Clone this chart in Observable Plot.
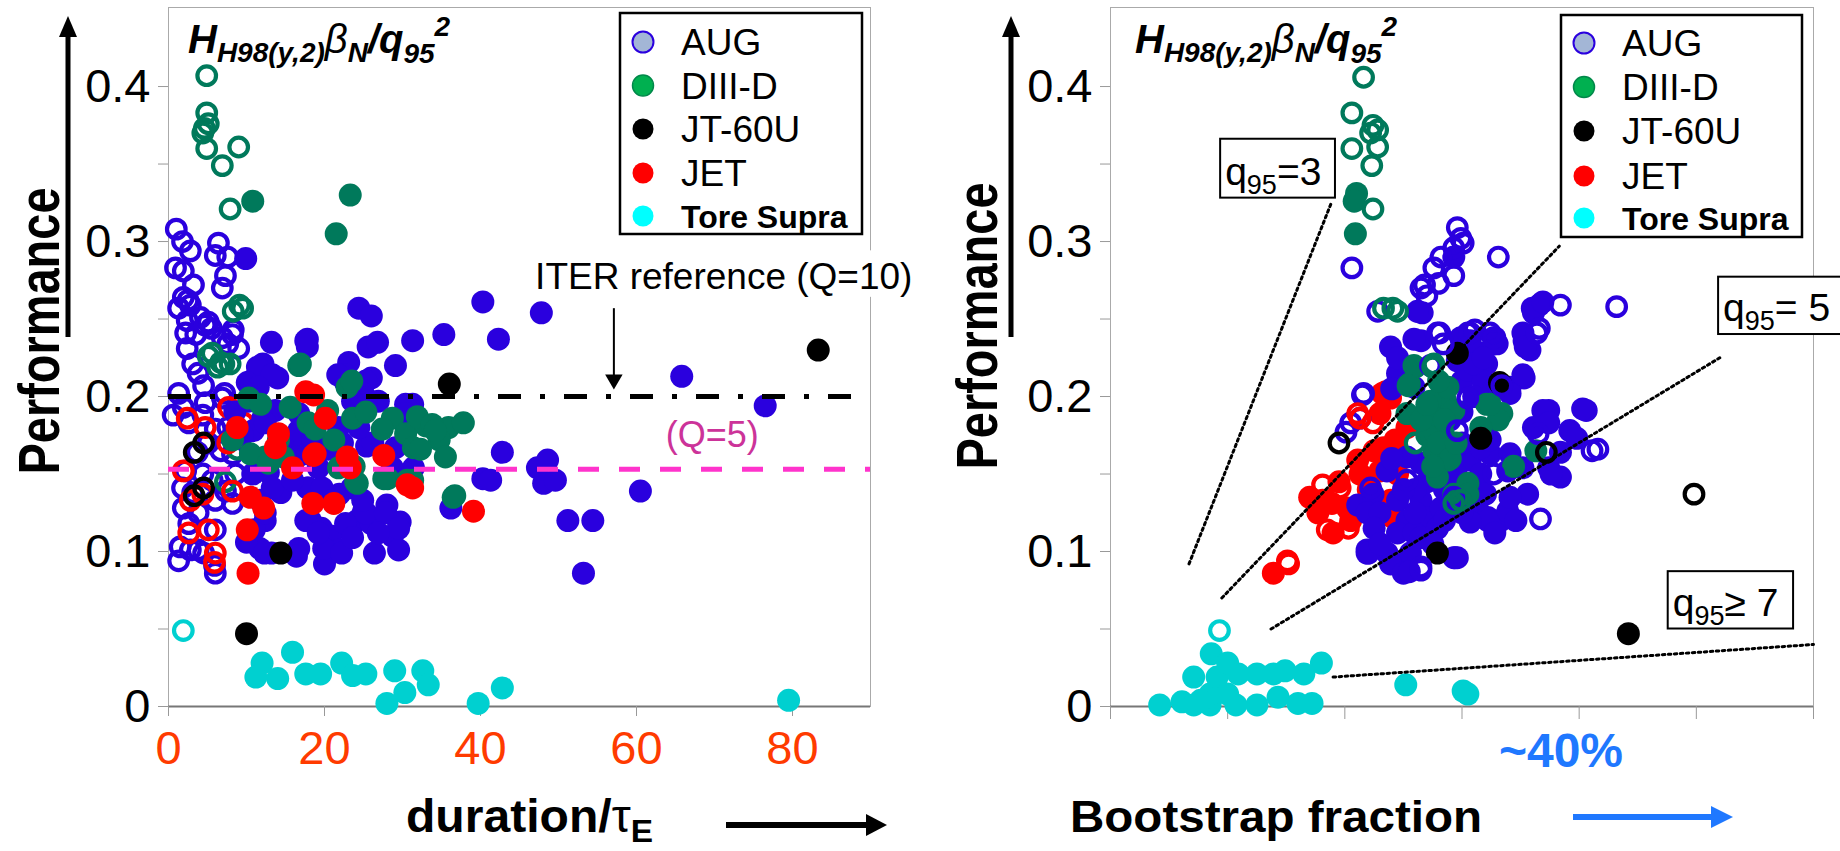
<!DOCTYPE html>
<html><head><meta charset="utf-8">
<script src="https://cdn.jsdelivr.net/npm/d3@7"></script>
<script src="https://cdn.jsdelivr.net/npm/@observablehq/plot@0.6"></script>
<style>
html,body{margin:0;padding:0;background:#fff;}
#wrap{position:relative;width:1840px;height:851px;overflow:hidden;font-family:"Liberation Sans",Arial,sans-serif;}
#left,#right{position:absolute;top:0;width:920px;height:851px;}
#left{left:0}#right{left:920px}
#ov{position:absolute;left:0;top:0;font-family:"Liberation Sans",Arial,sans-serif;}
</style></head><body>
<div id="wrap"><div id="left"></div><div id="right"></div><svg id="ov" width="1840" height="851"></svg></div>
<script>
// ---------- data: left panel (duration / tau_E , performance) ----------
const augOpenL = [[1.0,0.308],[1.8,0.300],[2.8,0.294],[6.4,0.299],[6.0,0.291],[7.6,0.290],[0.9,0.283],[1.9,0.281],[7.3,0.278],[3.2,0.272],[6.9,0.270],[1.9,0.264],[2.5,0.262],
[1.3,0.257],[2.8,0.259],[4.1,0.251],[5.1,0.248],[2.2,0.241],[3.5,0.240],[6.9,0.238],[8.2,0.240],[7.6,0.234],[9.0,0.231],[3.1,0.221],[3.8,0.215],[4.5,0.207],[1.3,0.202],[1.9,0.193],[0.6,0.188],[4.7,0.196],[6.9,0.199],[4.4,0.188],[2.6,0.183],[6.0,0.179],[7.6,0.180],[8.6,0.176],[5.1,0.170],[3.7,0.164],[6.7,0.165],[8.2,0.163],[2.2,0.152],[4.4,0.150],[8.6,0.150],[5.6,0.146],[1.8,0.141],[3.1,0.138],[7.3,0.139],[1.9,0.128],[3.8,0.125],[6.0,0.133],[8.2,0.131],[2.6,0.118],[6.0,0.114],[1.5,0.103],[3.8,0.101],
[1.3,0.094],[2.8,0.101],[4.5,0.099],[6.0,0.086],[5.9,0.091],[2.4,0.249],[4.7,0.246],[2.4,0.231],[5.5,0.244],[8.3,0.243],[7.2,0.202]];
const augFillL = [[9.9,0.289],[13.2,0.235],[17.8,0.237],[17.8,0.232],[24.4,0.257],[26.0,0.252],[25.6,0.232],[26.8,0.235],[31.3,0.236],[35.3,0.240],[40.3,0.261],[42.3,0.237],[47.8,0.254],[23.1,0.222],[29.1,0.220],[12.1,0.221],[14.0,0.212],[10.6,0.210],[22.7,0.209],[26.0,0.212],[31.3,0.195],[65.8,0.213],[76.5,0.194],
[42.8,0.164],[47.3,0.154],[48.6,0.159],[48.1,0.144],[49.6,0.146],[40.3,0.147],[41.3,0.146],[60.5,0.139],[51.2,0.120],[54.4,0.120],[31.4,0.154],[36.2,0.128],[29.7,0.119],[53.2,0.086],
[12.8,0.151],[14.4,0.138],[11.7,0.133],[12.4,0.120],[11.0,0.114],[11.7,0.102],[13.2,0.099],[16.7,0.102],[18.2,0.120],[19.6,0.115],[20.8,0.110],[20.0,0.092],[21.9,0.101],[24.2,0.120],[25.0,0.126],[26.0,0.118],[28.0,0.130],[29.5,0.118],[28.7,0.110],[26.4,0.099],[29.5,0.101],[21.9,0.137],[23.5,0.141],[17.8,0.141],[14.0,0.163],[16.3,0.170],[22.3,0.170],[25.4,0.168],[19.2,0.154],[28.7,0.154],
[10.0,0.106],[12.3,0.099],[16.4,0.097],[19.9,0.102],[22.2,0.099],
[11.4,0.219],[13.3,0.214],[10.1,0.209],[22.7,0.214],[25.3,0.210],[24.9,0.202],[30.4,0.195],[17.6,0.236],
[12.1,0.186],[10.9,0.178],[14.6,0.172],[16.5,0.161],[10.8,0.150],[13.3,0.141],[17.9,0.141],[19.7,0.141],[12.4,0.125],[17.6,0.120],[19.2,0.112],[22.7,0.118],[25.3,0.125],[27.8,0.125],[29.5,0.115],[26.9,0.112],[23.6,0.109],[24.9,0.133],[21.0,0.133],[15.9,0.146],[17.9,0.163],[20.5,0.166],[26.2,0.170],[29.1,0.167],[21.8,0.180],[24.4,0.180],[25.3,0.199],[26.9,0.197],[23.6,0.197],[30.4,0.189],[21.7,0.214],[10.3,0.197],[11.5,0.206],[13.7,0.191],[12.4,0.183],[16.7,0.178],[16.7,0.189],[18.5,0.172],[8.5,0.190],[9.5,0.175]];
const diiidOpenL = [[4.9,0.407],[4.9,0.383],[5.1,0.376],[4.6,0.373],[4.4,0.370],[4.9,0.360],[9.0,0.361],[6.9,0.349],[7.9,0.321],[9.1,0.259],[8.3,0.255],[9.5,0.257],[5.6,0.228],[5.1,0.226],[6.7,0.222],[7.9,0.221],[7.1,0.221],[6.3,0.219],[8.8,0.166],[7.3,0.145]];
const diiidFillL = [[10.8,0.326],[23.3,0.330],[21.5,0.305],[16.7,0.220],[10.3,0.199],[11.8,0.195],[15.6,0.193],[17.9,0.183],[20.4,0.191],[22.9,0.206],[23.6,0.186],[25.3,0.190],[28.7,0.186],[30.4,0.176],[27.4,0.179],[21.2,0.172],[21.8,0.154],[24.0,0.145],[12.4,0.161],[14.1,0.172],[10.5,0.163],[28.1,0.147],[31.3,0.146],[16.9,0.221],[23.5,0.210],[33.0,0.181],[35.9,0.180],[37.8,0.183],[34.7,0.172],[31.4,0.167],[35.5,0.161],[24.2,0.144],[36.7,0.136],[18.8,0.179],[14.7,0.161],[12.8,0.157],[23.8,0.155],[31.9,0.187],[33.8,0.182],[32.3,0.166],[36.5,0.135],[34.2,0.178],[27.6,0.147],[30.6,0.146],[8.2,0.172]];
const jtOpenL = [[4.5,0.170],[3.3,0.164],[4.5,0.141],[3.3,0.136]];
const jtFillL = [[36.0,0.208],[83.3,0.230],[14.4,0.099],[10.0,0.047]];
const jetOpenL = [[2.4,0.186],[1.9,0.152],[2.8,0.133],[7.7,0.193],[7.6,0.170],[4.7,0.180],[9.6,0.183],[5.1,0.114],[2.6,0.112],[6.0,0.099],[4.4,0.137],[8.2,0.139],[5.9,0.093]];
const jetFillL = [[17.6,0.203],[18.6,0.201],[20.1,0.186],[14.1,0.176],[18.6,0.162],[22.9,0.161],[23.3,0.154],[27.6,0.162],[30.6,0.143],[15.9,0.154],[10.5,0.135],[12.2,0.128],[18.5,0.131],[21.2,0.131],[10.1,0.114],[8.8,0.180],[13.7,0.167],[31.3,0.141],[39.1,0.126],[18.8,0.163],[10.2,0.086]];
const tsOpenL = [[1.9,0.049]];
const tsFillL = [[12.0,0.028],[11.2,0.019],[14.0,0.018],[15.9,0.035],[17.6,0.021],[19.5,0.021],[22.2,0.028],[23.6,0.020],[25.3,0.021],[29.0,0.023],[32.6,0.023],[33.3,0.014],[30.3,0.009],[28.0,0.002],[39.7,0.002],[42.8,0.012],[79.5,0.004]];

// ---------- data: right panel (bootstrap fraction %, performance) ----------
const augOpenR = [[20.6,0.283],[29.6,0.309],[29.9,0.302],[30.1,0.299],[29.3,0.296],[33.1,0.290],[28.2,0.290],[27.6,0.283],[29.3,0.278],[28.0,0.273],[26.5,0.270],[27.0,0.265],[22.8,0.255],[43.2,0.258],[38.4,0.259],[26.8,0.272],[28.1,0.241],[31.1,0.243],[36.6,0.244],[21.6,0.202],[21.5,0.201],[20.5,0.183],[20.1,0.177],[21.3,0.186],[22.2,0.141],[27.9,0.241],[28.4,0.234],[30.5,0.199],[27.3,0.220],[30.5,0.241],[32.4,0.241],[32.7,0.150],[29.6,0.178],[26.5,0.090],[25.3,0.146],[29.3,0.135],[36.4,0.241],[32.7,0.238],[30.7,0.241],[41.1,0.165],[36.7,0.121],[36.5,0.176],[33.4,0.207],[26.5,0.088],[41.6,0.166]];
const augFillR = [[29.3,0.290],[26.6,0.254],[36.6,0.259],[36.1,0.254],[26.5,0.236],[30.5,0.235],[32.8,0.238],[35.3,0.236],[35.8,0.230],[25.0,0.217],[30.5,0.219],[32.1,0.221],[35.3,0.212],[30.0,0.210],[34.1,0.206],[37.4,0.191],[40.6,0.191],
[26.2,0.255],[25.9,0.237],[24.5,0.215],[29.6,0.223],[30.5,0.217],[31.6,0.228],[31.8,0.210],[32.7,0.204],[29.9,0.238],[33.0,0.234],[31.6,0.170],[32.4,0.163],[30.7,0.159],[31.6,0.150],[30.7,0.141],[26.5,0.157],[25.3,0.161],[23.6,0.152],[21.1,0.130],[22.4,0.137],[21.9,0.125],[23.0,0.125],[24.5,0.133],[26.5,0.133],[25.3,0.120],[27.0,0.122],[28.2,0.128],[31.3,0.128],[32.2,0.122],[33.3,0.120],[24.5,0.112],[25.9,0.112],[21.9,0.101],[23.6,0.099],[24.7,0.092],[25.6,0.099],[29.3,0.096],[26.5,0.109],[27.9,0.115],[23.9,0.232],[25.9,0.206],
[36.0,0.257],[36.9,0.261],[35.2,0.241],[35.4,0.232],[32.7,0.234],[30.7,0.236],[35.2,0.214],[34.1,0.202],[31.0,0.221],[31.8,0.225],[36.9,0.191],[40.3,0.192],[36.1,0.180],[37.4,0.183],[39.2,0.178],[39.8,0.173],[38.4,0.164],[37.4,0.154],[38.4,0.148],[35.2,0.154],[34.1,0.163],[33.9,0.152],[31.6,0.167],[32.4,0.172],[35.6,0.137],[33.9,0.126],[32.2,0.120],[30.7,0.119],[34.1,0.135],[30.7,0.139],[32.0,0.137],
[21.9,0.099],[23.9,0.092],[25.0,0.086],[29.4,0.096],[37.6,0.150],[32.8,0.112],[29.6,0.096],[25.5,0.087],[22.0,0.099],[34.6,0.120],
[29.0,0.185],[30.0,0.190],[31.0,0.200],[30.0,0.170],[29.5,0.150],[28.5,0.140],[27.0,0.145],[26.0,0.140],[25.0,0.140],[24.0,0.160],[22.5,0.115],[23.0,0.105],[27.5,0.105],[28.5,0.120],[30.0,0.125],[26.0,0.125],[24.0,0.205],[24.5,0.225]];
const diiidOpenR = [[21.6,0.406],[20.6,0.383],[22.4,0.375],[22.8,0.372],[22.2,0.370],[20.6,0.360],[22.8,0.361],[22.3,0.349],[22.4,0.321],[23.3,0.257],[24.1,0.257],[24.5,0.255],[27.5,0.219],[29.3,0.131],[29.9,0.133],[26.0,0.170],[27.6,0.221]];
const diiidFillR = [[21.0,0.331],[20.8,0.326],[20.9,0.305],[26.0,0.219],[25.5,0.208],[28.6,0.197],[32.1,0.195],[33.4,0.189],[25.9,0.220],[25.4,0.207],[28.2,0.197],[27.7,0.186],[28.4,0.176],[27.6,0.165],[28.8,0.159],[27.9,0.148],[29.3,0.191],[25.3,0.189],[30.5,0.144],[29.3,0.137],[27.3,0.197],[28.8,0.206],[33.1,0.185],[32.4,0.195],[34.4,0.155],[36.3,0.165],[30.5,0.137],[31.6,0.180],[27.0,0.175],[28.0,0.170],[29.0,0.160],[27.5,0.155],[26.5,0.185],[28.5,0.185],[29.5,0.170],[27.0,0.195],[28.0,0.210]];
const jtOpenR = [[19.5,0.170],[49.8,0.137],[37.2,0.164]];
const jtFillR = [[27.9,0.099],[33.3,0.208],[31.6,0.173],[33.2,0.209],[44.2,0.047],[29.6,0.228]];
const jetOpenR = [[15.1,0.094],[18.1,0.143],[19.6,0.141],[18.5,0.114],[20.3,0.115],[21.3,0.186],[22.4,0.183],[21.1,0.189],[15.2,0.092]];
const jetFillR = [[23.2,0.202],[23.9,0.199],[23.5,0.203],[23.0,0.189],[21.1,0.159],[21.3,0.150],[23.3,0.167],[24.3,0.172],[23.0,0.152],[18.1,0.133],[18.9,0.131],[17.7,0.125],[20.2,0.128],[19.0,0.112],[23.9,0.133],[24.1,0.122],[25.3,0.180],[24.5,0.150],[13.9,0.086],[17.0,0.135],[19.5,0.145],[22.0,0.140],[22.5,0.165],[20.5,0.120]];
const tsOpenR = [[9.3,0.049]];
const tsFillR = [[4.2,0.001],[6.1,0.003],[7.1,0.001],[8.5,0.001],[8.5,0.008],[10.7,0.001],[12.5,0.001],[14.3,0.006],[16.0,0.002],[17.2,0.002],[7.1,0.019],[8.6,0.034],[9.1,0.019],[10.0,0.028],[10.9,0.021],[12.5,0.021],[13.9,0.021],[14.9,0.023],[16.5,0.021],[18.0,0.028],[25.2,0.014],[30.1,0.010],[30.5,0.008],[10.0,0.008],[7.7,0.004]];

// q95 guide lines (right panel), endpoints in data units
const q95Lines = [
  [[6.7,0.092],[18.9,0.326]],
  [[9.5,0.070],[38.3,0.297]],
  [[13.7,0.050],[52.0,0.225]],
  [[19.0,0.019],[60.0,0.040]]
];
const q95Boxes = [
  {rel:"=", val:"3", x1:9.4, x2:19.2, y1:0.328, y2:0.366},
  {rel:"= ", val:"5", x1:51.9, x2:62.8, y1:0.240, y2:0.277},
  {rel:"\u2265 ", val:"7", x1:47.6, x2:58.3, y1:0.050, y2:0.087}
];

// reference levels (left panel)
const iterLevel = [0.2];
const q5Level = [0.153];
const iterLabel = [{x:47.0, y:0.277, text:"ITER reference (Q=10)"}];
const iterBg = [{x1:46.4, x2:97, y1:0.264, y2:0.294}];
const iterArrow = [{x:57.1, y1:0.257, y2:0.211}];
const q5Label = [{x:69.7, y:0.175, text:"(Q=5)"}];

// axes
const yTicks = [0, 0.1, 0.2, 0.3, 0.4];
const yMinor = [0.05, 0.15, 0.25, 0.35];
const xTicksL = [0, 20, 40, 60, 80];
const xTicksR = [0, 10, 20, 30, 40, 50, 60];

const legendNames = ["AUG", "DIII-D", "JT-60U", "JET", "Tore Supra"];
const C = {AUG:"#2A00DE", DIIID:"#00795B", JT:"#000000", JET:"#FF0000", TS:"#00D0D0"};

// ---------- marks ----------
const fillDot = (d, c) => Plot.dot(d, {x: p => p[0], y: p => p[1], r: 11.5, fill: c, stroke: "none"});
const ring = (d, c) => Plot.dot(d, {x: p => p[0], y: p => p[1], r: 9.3, fill: "none", stroke: c, strokeWidth: 4.2});
const commonStyle = {fontFamily: "Liberation Sans, Arial, sans-serif", background: "transparent", overflow: "visible"};
const yAxes = [
  Plot.axisY(yTicks, {tickSize: 10, tickPadding: 8, fontSize: 47, stroke: "#999", fill: "#000", tickFormat: d => d === 0 ? "0" : d.toFixed(1), label: null}),
  Plot.axisY(yMinor, {tickSize: 10, stroke: "#999", tickFormat: () => "", label: null})
];

const plotL = Plot.plot({
  width: 920, height: 851, marginLeft: 168, marginRight: 50, marginTop: 7, marginBottom: 145,
  style: commonStyle,
  x: {domain: [0, 90]}, y: {domain: [0, 0.451]},
  marks: [
    Plot.frame({stroke: "#aaa"}),
    Plot.rect(iterBg, {x1: "x1", x2: "x2", y1: "y1", y2: "y2", fill: "white"}),
    Plot.ruleY([0], {stroke: "#777", strokeWidth: 2}),
    ...yAxes,
    Plot.axisX(xTicksL, {tickSize: 10, tickPadding: 14, fontSize: 47, stroke: "#999", fill: "#FF3B00", label: null}),
    ring(augOpenL, C.AUG), ring(diiidOpenL, C.DIIID), ring(jetOpenL, C.JET), ring(jtOpenL, C.JT), ring(tsOpenL, C.TS),
    fillDot(augFillL, C.AUG), fillDot(diiidFillL, C.DIIID), fillDot(jetFillL, C.JET), fillDot(jtFillL, C.JT), fillDot(tsFillL, C.TS),
    Plot.ruleY(q5Level, {stroke: "#FF33CC", strokeWidth: 5, strokeDasharray: "21,20"}),
    Plot.ruleY(iterLevel, {stroke: "#000", strokeWidth: 5, strokeDasharray: "23,19,5,19"}),
    Plot.link(iterArrow, {x1: "x", x2: "x", y1: "y1", y2: "y2", stroke: "#000", strokeWidth: 2}),
    Plot.dot(iterArrow, {x: "x", y: "y2", symbol: "triangle", rotate: 180, r: 6.5, fill: "#000", stroke: "none"}),
    Plot.text(iterLabel, {x: "x", y: "y", text: "text", textAnchor: "start", fontSize: 37, fill: "#000"}),
    Plot.text(q5Label, {x: "x", y: "y", text: "text", fontSize: 36, fill: "#CC3399"})
  ]
});
document.getElementById("left").appendChild(plotL);

const plotR = Plot.plot({
  width: 920, height: 851, marginLeft: 190, marginRight: 27, marginTop: 7, marginBottom: 145,
  style: commonStyle,
  x: {domain: [0, 60]}, y: {domain: [0, 0.451]},
  marks: [
    Plot.frame({stroke: "#aaa"}),
    Plot.ruleY([0], {stroke: "#777", strokeWidth: 2}),
    ...yAxes,
    Plot.axisX(xTicksR, {tickSize: 13, stroke: "#999", tickFormat: () => "", label: null}),
    fillDot(jetFillR, C.JET), fillDot(augFillR, C.AUG), fillDot(diiidFillR, C.DIIID), fillDot(jtFillR, C.JT), fillDot(tsFillR, C.TS),
    ring(augOpenR, C.AUG), ring(diiidOpenR, C.DIIID), ring(jetOpenR, C.JET), ring(jtOpenR, C.JT), ring(tsOpenR, C.TS),
    ...q95Lines.map(l => Plot.line(l, {x: p => p[0], y: p => p[1], stroke: "#000", strokeWidth: 3, strokeDasharray: "2.5,3.5"})),
    Plot.rect(q95Boxes, {x1: "x1", x2: "x2", y1: "y1", y2: "y2", fill: "white", stroke: "#000", strokeWidth: 2})
  ]
});
document.getElementById("right").appendChild(plotR);

// ---------- decorations (labels, legends, arrows) ----------
const ov = d3.select("#ov");
const sxR = plotR.scale("x"), syR = plotR.scale("y");

function formula(x) {
  const t = ov.append("text").attr("x", x).attr("y", 53).attr("font-weight", "bold").attr("font-style", "italic").attr("font-size", 40);
  t.append("tspan").text("H");
  t.append("tspan").attr("font-size", 28).attr("dy", 9).text("H98(y,2)");
  t.append("tspan").attr("font-size", 40).attr("dy", -9).attr("font-weight", "normal").text("\u03B2");
  t.append("tspan").attr("font-size", 28).attr("dy", 9).text("N");
  t.append("tspan").attr("font-size", 40).attr("dy", -9).text("/q");
  t.append("tspan").attr("font-size", 28).attr("dy", 10).text("95");
  t.append("tspan").attr("font-size", 28).attr("dy", -27).text("2");
}
formula(188); formula(1135);

function legend(x0, y0, w, h, rows) {
  ov.append("rect").attr("x", x0).attr("y", y0).attr("width", w).attr("height", h).attr("fill", "white").attr("stroke", "#000").attr("stroke-width", 2.5);
  const sty = [
    {fill: "#A3B6D6", stroke: C.AUG, sw: 2},
    {fill: "#00B050", stroke: "#00884A", sw: 1.5},
    {fill: "#000", stroke: "none", sw: 0},
    {fill: "#FF0000", stroke: "none", sw: 0},
    {fill: "#00FFFF", stroke: "none", sw: 0}
  ];
  legendNames.forEach((n, i) => {
    const cy = rows[i];
    ov.append("circle").attr("cx", x0 + 23).attr("cy", cy).attr("r", 10.5).attr("fill", sty[i].fill).attr("stroke", sty[i].stroke).attr("stroke-width", sty[i].sw);
    const bold = n === "Tore Supra";
    ov.append("text").attr("x", x0 + 61).attr("y", cy + (bold ? 11.5 : 13)).attr("font-size", bold ? 32 : 37).attr("font-weight", bold ? "bold" : "normal").text(n);
  });
}
legend(620, 13, 242, 221, [42, 85.5, 129, 173, 216]);
legend(1561, 15, 241, 222, [43, 87, 131, 176, 218]);

function vArrow(x) {
  ov.append("line").attr("x1", x).attr("x2", x).attr("y1", 337).attr("y2", 34).attr("stroke", "#000").attr("stroke-width", 5);
  ov.append("path").attr("d", `M${x - 9},37L${x},16L${x + 9},37Z`).attr("fill", "#000");
}
vArrow(68); vArrow(1011);
function perfLabel(x, y) {
  ov.append("text").attr("transform", `translate(${x},${y}) rotate(-90)`).attr("text-anchor", "middle")
    .attr("font-weight", "bold").attr("font-size", 58).attr("textLength", 287).attr("lengthAdjust", "spacingAndGlyphs").text("Performance");
}
perfLabel(59, 331); perfLabel(997, 326);

// x axis titles
const dl = ov.append("text").attr("x", 406).attr("y", 832).attr("font-weight", "bold").attr("font-size", 46).attr("textLength", 247).attr("lengthAdjust", "spacingAndGlyphs");
dl.append("tspan").text("duration/");
dl.append("tspan").attr("font-weight", "normal").text("\u03C4");
dl.append("tspan").attr("font-size", 32).attr("dy", 10).text("E");
ov.append("line").attr("x1", 726).attr("x2", 868).attr("y1", 825).attr("y2", 825).attr("stroke", "#000").attr("stroke-width", 6);
ov.append("path").attr("d", "M866,814L887,825L866,836Z").attr("fill", "#000");

ov.append("text").attr("x", 1070).attr("y", 832).attr("font-weight", "bold").attr("font-size", 45).attr("textLength", 412).attr("lengthAdjust", "spacingAndGlyphs").text("Bootstrap fraction");
ov.append("line").attr("x1", 1573).attr("x2", 1714).attr("y1", 817).attr("y2", 817).attr("stroke", "#1F78FF").attr("stroke-width", 6);
ov.append("path").attr("d", "M1711,806L1733,817L1711,828Z").attr("fill", "#1F78FF");
ov.append("text").attr("x", 1561).attr("y", 767).attr("text-anchor", "middle").attr("font-weight", "bold").attr("font-size", 48).attr("fill", "#1F78FF").text("~40%");

// q95 box texts
q95Boxes.forEach(b => {
  const x = 920 + sxR.apply(b.x1) + 5, y = syR.apply(b.y1) - 13;
  const t = ov.append("text").attr("x", x).attr("y", y).attr("font-size", 39);
  t.append("tspan").text("q");
  t.append("tspan").attr("font-size", 27).attr("dy", 9).text("95");
  t.append("tspan").attr("dy", -9).text(b.rel + b.val);
});
</script>
</body></html>
